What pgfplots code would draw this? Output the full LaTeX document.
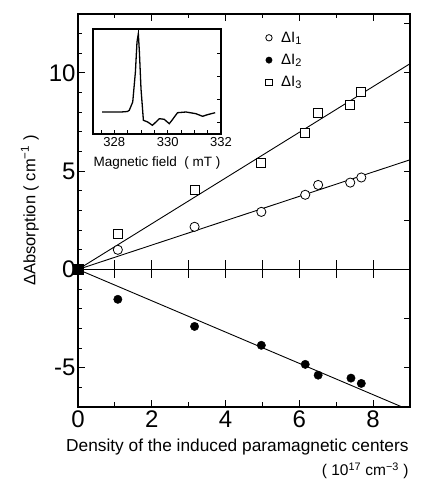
\documentclass[border=0pt]{standalone}
\usepackage{fontspec}
\setmainfont{Liberation Sans}
\usepackage{pgfplots}
\pgfplotsset{compat=1.18}

\begin{document}
\begin{tikzpicture}

% ---- main panel ----
\begin{axis}[
  at={(0pt,0pt)}, anchor=south west,
  scale only axis, width=332pt, height=393pt,
  xmin=0, xmax=9, ymin=-7, ymax=13,
  xtick={0,2,4,6,8}, xticklabels={0,2,4,6,8},
  minor xtick={1,3,5,7,9},
  ytick={-5,0,5,10}, yticklabels={-5,0,5,10},
  minor ytick={-6,-4,-3,-2,-1,1,2,3,4,6,7,8,9,11,12},
  ytick pos=left,
  tick align=inside,
  major tick length=7pt, minor tick length=4.5pt,
  tick style={black, line width=0.9pt},
  axis line style={line width=1.1pt},
  /pgf/number format/assume math mode=true,
  tick label style={font=\fontsize{24}{24}\selectfont},
  yticklabel style={xshift=1pt},
  clip mode=individual,
  legend cell align=left,
  legend image code/.code={\draw[#1, mark size=3.2pt] plot coordinates {(0pt,0pt)};},
  legend style={at={(axis description cs:0.565,0.955)}, anchor=north west,
    draw=none, fill=none, inner sep=0pt, row sep=10.5pt,
    /tikz/every odd column/.append style={column sep=9pt},
    nodes={inner sep=0pt},
    font=\fontsize{15}{15}\selectfont},
]

% zero line with crossing ticks
\addplot[black, line width=1pt, forget plot] coordinates {(0,0) (9,0)};
\addplot[only marks, mark=|, mark size=9pt, mark options={line width=0.9pt}, forget plot]
  coordinates {(1,0) (2,0) (3,0) (4,0) (5,0) (6,0) (7,0) (8,0)};

% fitted lines through the origin
\addplot[black, line width=0.9pt, forget plot] coordinates {(0,0) (9,10.47)};
\addplot[black, line width=0.9pt, forget plot] coordinates {(0,0) (9,5.58)};
\addplot[black, line width=0.9pt, forget plot] coordinates {(0,0) (9,-7.17)};

% Delta I1 (open circles)
\addplot[only marks, mark=*, mark size=4.6pt, mark options={fill=white, draw=black, line width=0.8pt}]
  coordinates {(0,0) (1.08,1.00) (3.16,2.17) (4.97,2.93) (6.16,3.80) (6.51,4.30) (7.38,4.42) (7.68,4.68)};
\addlegendentry{ΔI\raisebox{-2pt}{\fontsize{11}{11}\selectfont 1}}

% Delta I2 (filled circles)
\addplot[only marks, mark=*, mark size=4.2pt, mark options={fill=black, draw=black}]
  coordinates {(0,0) (1.08,-1.52) (3.16,-2.90) (4.97,-3.86) (6.16,-4.83) (6.51,-5.38) (7.40,-5.53) (7.68,-5.80)};
\addlegendentry{ΔI\raisebox{-2pt}{\fontsize{11}{11}\selectfont 2}}

% Delta I3 (open squares)
\addplot[only marks, mark=square*, mark size=4.5pt, mark options={fill=white, draw=black, line width=0.8pt}]
  coordinates {(1.08,1.83) (3.16,4.06) (4.97,5.40) (6.16,6.95) (6.51,7.97) (7.38,8.38) (7.68,9.05)};
\addlegendentry{ΔI\raisebox{-2pt}{\fontsize{11}{11}\selectfont 3}}

% origin blob
\addplot[only marks, mark=square*, mark size=5pt, forget plot] coordinates {(0,0)};

\node[rotate=90, font=\fontsize{16.5}{16.5}\selectfont]
  at (axis description cs:-0.145,0.5) {ΔAbsorption ( cm\textsuperscript{−1} )};
\node[font=\fontsize{17.3}{17.3}\selectfont]
  at (axis description cs:0.48,-0.102) {Density of the induced paramagnetic centers};
\node[anchor=east, font=\fontsize{15.5}{15.5}\selectfont]
  at (axis description cs:1.006,-0.163) {( 10\textsuperscript{17} cm\textsuperscript{−3} )};
\end{axis}

% ---- right-side ticks (every 2.5) ----
\begin{axis}[
  at={(0pt,0pt)}, anchor=south west,
  scale only axis, width=332pt, height=393pt,
  xmin=0, xmax=9, ymin=-7, ymax=13,
  xtick=\empty,
  ytick={-5,-2.5,0,2.5,5,7.5,10,12.5}, yticklabels={},
  ytick pos=right, tick align=inside,
  major tick length=6pt,
  tick style={black, line width=0.9pt},
  axis line style={line width=1.1pt},
]
\end{axis}

% ---- inset: EPR spectrum ----
\begin{axis}[
  at={(15pt,273pt)}, anchor=south west,
  scale only axis, width=128pt, height=105pt,
  xmin=327.2, xmax=332, ymin=0, ymax=105,
  axis background/.style={fill=white},
  xtick={328,330,332}, xticklabels={328,330,332},
  minor xtick={327.5,328.5,329,329.5,330.5,331,331.5},
  xtick pos=bottom,
  ytick={12,35,58,81}, yticklabels={},
  ytick pos=right,
  tick align=inside,
  major tick length=4pt, minor tick length=4pt,
  tick style={black, line width=0.8pt},
  axis line style={line width=1.1pt},
  /pgf/number format/assume math mode=true,
  tick label style={font=\fontsize{13}{13}\selectfont},
  xlabel={Magnetic field\ \ ( mT )},
  xlabel style={font=\fontsize{13.5}{13.5}\selectfont, yshift=-3pt},
]
\addplot[black, line width=1.3pt] coordinates {
  (327.54,22) (328.26,22) (328.49,22.5) (328.56,23.7) (328.69,32)
  (328.79,62) (328.85,92) (328.90,100.3) (328.94,82) (329.00,45.3)
  (329.09,13.7) (329.25,12) (329.43,8.7) (329.69,15.3) (329.87,14.7)
  (330.06,10.3) (330.16,13.7) (330.37,21.3) (330.69,22) (331.06,20.3)
  (331.31,17.7) (331.49,19.3) (331.78,21.3)
};
\end{axis}

\pgfresetboundingbox
\useasboundingbox (-78pt,-78pt) rectangle (360pt,407pt);
\end{tikzpicture}
\end{document}
